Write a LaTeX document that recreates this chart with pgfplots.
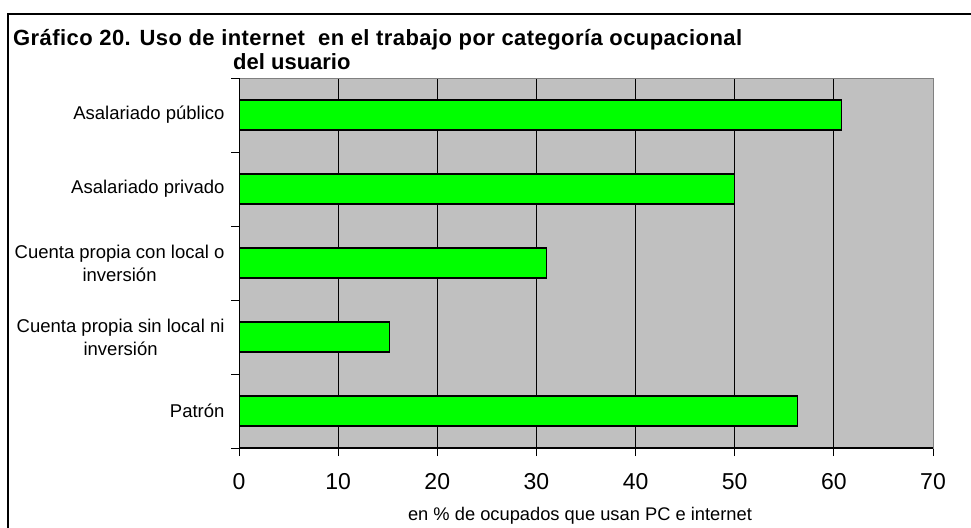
\documentclass[border=0pt]{standalone}
\usepackage{fontspec}
\setmainfont{Liberation Sans}
\usepackage{pgfplots}
\pgfplotsset{compat=1.18}
\definecolor{plotbg}{HTML}{C0C0C0}
\definecolor{bargreen}{HTML}{00FF00}
\definecolor{bordergray}{HTML}{808080}
\begin{document}
\begin{tikzpicture}[x=1pt,y=1pt]
\useasboundingbox (0,0) rectangle (971,527);
\draw[line width=1.5pt] (8,-5) -- (8,513) -- (980,513);
\node[anchor=base west, inner sep=0pt, font=\bfseries\fontsize{22}{22}\selectfont\addfontfeatures{LetterSpace=2}] at (13,481) {Gráfico 20. Uso de internet\ \ en el trabajo por categoría ocupacional};
\node[anchor=base west, inner sep=0pt, font=\bfseries\fontsize{22}{22}\selectfont] at (233,457) {del usuario};
\begin{axis}[
  at={(239pt,79pt)}, anchor=south west,
  scale only axis, width=694pt, height=370pt,
  xmin=0, xmax=70, ymin=-0.5, ymax=4.5,
  axis background/.style={fill=plotbg},
  axis line style={draw=bordergray, line width=1pt},
  xbar, bar width=30pt,
  xtick={0,10,...,70},
  xtick pos=bottom,
  ytick pos=left,
  tick align=outside,
  major tick length=8pt,
  tick style={black, line width=0.8pt},
  xmajorgrids,
  major grid style={black, line width=0.9pt},
  ytick={-0.5,0.5,...,4.5},
  yticklabels={},
  extra y ticks={0,1,2,3,4},
  extra y tick labels={Patrón,{Cuenta propia sin local ni\\inversión},{Cuenta propia con local o\\inversión},Asalariado privado,Asalariado público},
  extra y tick style={tick style={draw=none}, yticklabel style={align=center, font=\fontsize{18.5}{23}\selectfont, xshift=-3pt}},
  /pgf/number format/assume math mode=true,
  xticklabel style={font=\fontsize{23}{23}\selectfont, yshift=-14pt},
  xlabel={en \% de ocupados que usan PC e internet},
  xlabel style={font=\fontsize{18.3}{18.3}\selectfont, at={(rel axis cs:0.5,0)}, anchor=center, yshift=-68pt, xshift=-6pt},
]
\addplot[fill=bargreen, draw=black, line width=1.3pt] coordinates {
  (56.3,0) (15.2,1) (31.0,2) (50.0,3) (60.8,4)
};
\draw[black, line width=1.3pt] (rel axis cs:0,0) -- (rel axis cs:0,1);
\draw[black, line width=1.3pt] (rel axis cs:0,0) -- (rel axis cs:1,0);
\end{axis}
\end{tikzpicture}
\end{document}
